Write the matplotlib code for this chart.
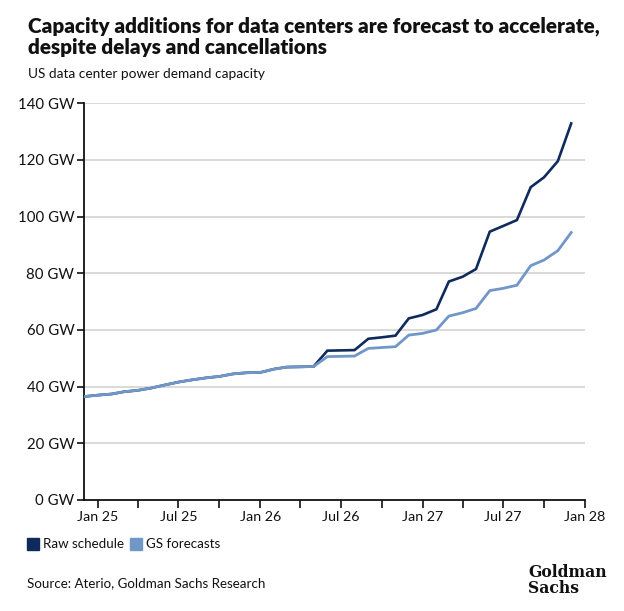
import pandas as pd
import matplotlib
matplotlib.use("Agg")
import matplotlib.pyplot as plt
from matplotlib.patches import Rectangle

plt.rcParams['font.family'] = ['Lato', 'DejaVu Sans']

# Monthly points, Dec 2024 - Dec 2027
months = pd.date_range('2024-12-01', '2027-12-01', freq='MS')

# common history, Dec 24 - May 26
common = [36.5, 37.0, 37.4, 38.2, 38.7, 39.5, 40.6, 41.6, 42.4, 43.1,
          43.6, 44.5, 44.9, 45.0, 46.2, 46.9, 47.0, 47.1]

# Jun 26 - Dec 27
raw_tail = [52.7, 52.8, 52.9, 56.9, 57.4, 58.0, 64.1, 65.3, 67.3, 77.1,
            78.8, 81.5, 94.7, 96.7, 98.8, 110.4, 113.9, 119.6, 132.9]
gs_tail = [50.6, 50.7, 50.8, 53.5, 53.8, 54.1, 58.2, 58.8, 60.0, 64.9,
           66.1, 67.6, 73.9, 74.7, 75.8, 82.7, 84.7, 88.0, 94.4]

raw_schedule = common + raw_tail
gs_forecasts = common + gs_tail

y_ticks = [0, 20, 40, 60, 80, 100, 120, 140]
x_labels = ['Jan 25', 'Jul 25', 'Jan 26', 'Jul 26', 'Jan 27', 'Jul 27', 'Jan 28']

DARK = '#0f2b5c'
LIGHT = '#7097c8'
INK = '#111111'

fig = plt.figure(figsize=(6.24, 6.11), dpi=100)
ax = fig.add_axes([0.1346, 0.1817, 0.8029, 0.6492])

ax.plot(months, raw_schedule, color=DARK, lw=1.9, solid_joinstyle='miter', zorder=3)
ax.plot(months, gs_forecasts, color=LIGHT, lw=2.0, solid_joinstyle='miter', zorder=4)

ax.set_ylim(0, 140)
ax.set_xlim(pd.Timestamp('2024-12-01'), pd.Timestamp('2028-01-01'))
ax.set_yticks(y_ticks)
ax.set_yticklabels([f'{v} GW' for v in y_ticks])

# ticks every quarter, labels on Jan / Jul only
ticks = pd.date_range('2025-01-01', '2028-01-01', freq='3MS')
ax.set_xticks(ticks)
ax.set_xticklabels([x_labels[i // 2] if i % 2 == 0 else '' for i in range(len(ticks))])

for v in y_ticks[1:]:
    ax.axhline(v, color='#cfcfcf', lw=1.1, zorder=1)

for side in ['top', 'right']:
    ax.spines[side].set_visible(False)
for side in ['left', 'bottom']:
    ax.spines[side].set_linewidth(1.3)
    ax.spines[side].set_color(INK)

ax.tick_params(axis='y', length=5, width=1.2, pad=2, labelsize=10.8, colors=INK)
ax.tick_params(axis='x', length=6, width=1.2, pad=2, labelsize=10.3, colors=INK)

# title, subtitle
fig.text(28 / 624, 1 - 32 / 611, 'Capacity additions for data centers are forecast to accelerate,',
         fontsize=14.9, fontweight='heavy', va='baseline', ha='left', color=INK)
fig.text(28 / 624, 1 - 54 / 611, 'despite delays and cancellations',
         fontsize=14.9, fontweight='heavy', va='baseline', ha='left', color=INK)
fig.text(28 / 624, 1 - 78 / 611, 'US data center power demand capacity', fontsize=9.8, va='baseline', ha='left',
         color=INK)

# legend
fig.patches.append(Rectangle((27 / 624, 1 - 550 / 611), 12 / 624, 12 / 611, transform=fig.transFigure,
                             color=DARK, figure=fig))
fig.text(43 / 624, 1 - 544 / 611, 'Raw schedule', fontsize=9.6, va='center', ha='left', color=INK)
fig.patches.append(Rectangle((130 / 624, 1 - 550 / 611), 12 / 624, 12 / 611, transform=fig.transFigure,
                             color=LIGHT, figure=fig))
fig.text(146 / 624, 1 - 544 / 611, 'GS forecasts', fontsize=9.6, va='center', ha='left', color=INK)

fig.text(27 / 624, 1 - 583 / 611, 'Source: Aterio, Goldman Sachs Research', fontsize=9.6, va='center', ha='left',
         color=INK)

# logo as text
fig.text(528 / 624, 1 - 564 / 611, 'Goldman\nSachs', fontsize=12.5, fontweight='bold', va='top', ha='left',
         family=['DejaVu Serif'], fontstretch='condensed', linespacing=0.9, color=INK)

fig.savefig('out.png', dpi=100, facecolor='white')
